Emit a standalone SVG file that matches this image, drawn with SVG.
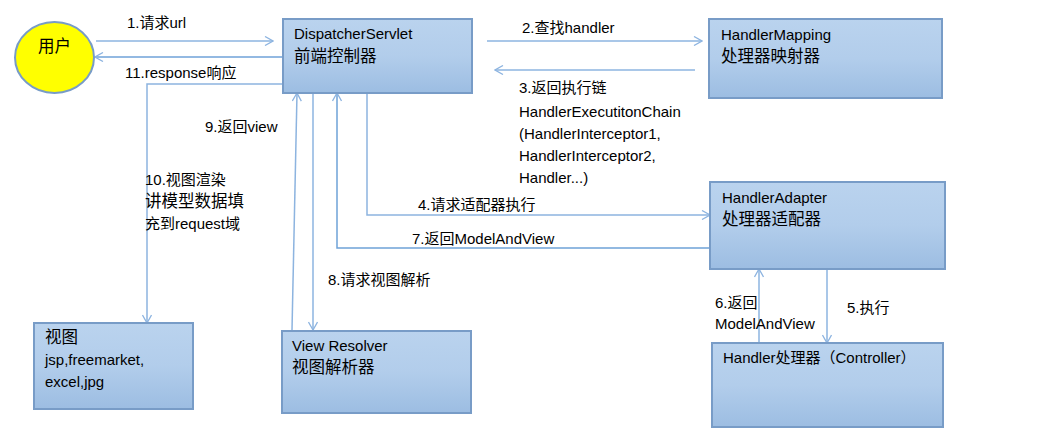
<svg xmlns="http://www.w3.org/2000/svg" width="1058" height="445" viewBox="0 0 1058 445">
<defs>
<linearGradient id="g" x1="0" y1="0" x2="0" y2="1">
<stop offset="0" stop-color="#bad3ee"/>
<stop offset="0.5" stop-color="#b2cdeb"/>
<stop offset="1" stop-color="#9cbde2"/>
</linearGradient>
<marker id="a" viewBox="0 0 10 10" refX="9" refY="5" markerWidth="10" markerHeight="10" markerUnits="userSpaceOnUse" orient="auto">
<path d="M1,0.5 L9,5 L1,9.5" fill="none" stroke="#8db4e0" stroke-width="1.3"/>
</marker>
</defs>
<style>
text{font-family:"Liberation Sans","Noto Sans CJK SC",sans-serif;font-size:15px;fill:#000}
.zh{font-size:16.5px}
.box{fill:url(#g);stroke:#789cc7;stroke-width:2}
.c{fill:none;stroke:#8db4e0;stroke-width:1.5}
.d{fill:none;stroke:#6fa2d8;stroke-width:1.5}
</style>
<rect width="1058" height="445" fill="#fff"/>
<g id="connectors">
<path class="c" d="M96,41 H273" marker-end="url(#a)"/>
<path class="d" d="M283,57 H95" marker-end="url(#a)"/>
<path class="c" d="M283,84 H147 V323" marker-end="url(#a)"/>
<path class="c" d="M487,41 H702" marker-end="url(#a)"/>
<path class="c" d="M695,70 H495" marker-end="url(#a)"/>
<path class="c" d="M367,86 V215 H710" marker-end="url(#a)"/>
<path class="d" d="M710,248 H337 V93" marker-end="url(#a)"/>
<path class="c" d="M313,93 V330" marker-end="url(#a)"/>
<path class="c" d="M292,330 L297,93" marker-end="url(#a)"/>
<path class="c" d="M759,343 V269" marker-end="url(#a)"/>
<path class="c" d="M827,269 V343" marker-end="url(#a)"/>
</g>
<g id="labels">
<text x="127" y="28">1.请求url</text>
<text x="125" y="78">11.response响应</text>
<text x="522" y="33">2.查找handler</text>
<text x="519" y="93">3.返回执行链</text>
<text x="519" y="117">HandlerExecutitonChain</text>
<text x="519" y="139">(HandlerInterceptor1,</text>
<text x="519" y="161">HandlerInterceptor2,</text>
<text x="519" y="183">Handler...)</text>
<text x="418" y="210">4.请求适配器执行</text>
<text x="412" y="244">7.返回ModelAndView</text>
<text x="205" y="132">9.返回view</text>
<text x="145" y="185">10.视图渲染</text>
<text class="zh" x="145" y="207">讲模型数据填</text>
<text x="145" y="229">充到request域</text>
<text x="328" y="285">8.请求视图解析</text>
<text x="715" y="308">6.返回</text>
<text x="715" y="329">ModelAndView</text>
<text x="847" y="313">5.执行</text>
</g>
<g id="user">
<ellipse cx="54.5" cy="57.5" rx="39.5" ry="35.5" fill="#ffff00" stroke="#789cc7" stroke-width="2"/>
<text class="zh" x="38" y="52">用户</text>
</g>
<g id="dispatcher">
<rect class="box" x="283" y="19" width="189" height="74"/>
<text x="294" y="39">DispatcherServlet</text>
<text class="zh" x="294" y="62">前端控制器</text>
</g>
<g id="mapping">
<rect class="box" x="709" y="19" width="233" height="79"/>
<text x="721" y="40">HandlerMapping</text>
<text class="zh" x="721" y="62">处理器映射器</text>
</g>
<g id="adapter">
<rect class="box" x="710" y="182" width="235" height="87"/>
<text x="722" y="203">HandlerAdapter</text>
<text class="zh" x="722" y="225">处理器适配器</text>
</g>
<g id="handler">
<rect class="box" x="712" y="343" width="231" height="84"/>
<text x="723" y="363">Handler处理器（Controller）</text>
</g>
<g id="view">
<rect class="box" x="34" y="323" width="159" height="86"/>
<text class="zh" x="45" y="343">视图</text>
<text x="45" y="365">jsp,freemarket,</text>
<text x="45" y="387">excel,jpg</text>
</g>
<g id="resolver">
<rect class="box" x="282" y="331" width="189" height="82"/>
<text x="292" y="351">View Resolver</text>
<text class="zh" x="292" y="373">视图解析器</text>
</g>
</svg>
